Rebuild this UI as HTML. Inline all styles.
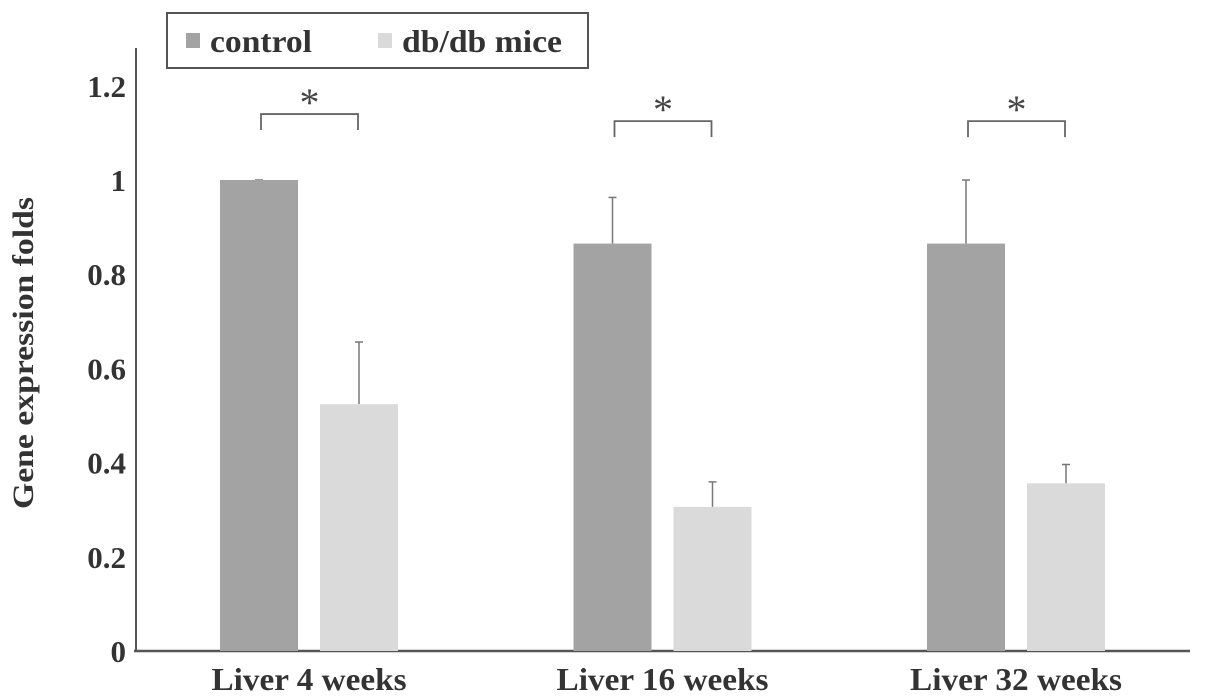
<!DOCTYPE html>
<html><head><meta charset="utf-8"><style>
html,body{margin:0;padding:0;background:#fff;}
svg{display:block;font-family:"Liberation Serif",serif;}
</style></head><body>
<svg id="chart" width="1205" height="700"></svg>
<script>
const categories=["Liver 4 weeks","Liver 16 weeks","Liver 32 weeks"];
const controlValues=[1.0,0.865,0.865];
const controlErrors=[0.0,0.098,0.135];
const dbValues=[0.524,0.306,0.356];
const dbErrors=[0.132,0.053,0.040];
const yTicks=[0,0.2,0.4,0.6,0.8,1,1.2];
const yTickLabels=["0","0.2","0.4","0.6","0.8","1","1.2"];
const sigMarks=["*","*","*"];
const bracketHeights=[1.14,1.125,1.125];

const NS="http://www.w3.org/2000/svg";
const svg=document.getElementById('chart');
function mk(t,a,p){const e=document.createElementNS(NS,t);for(const k in a)e.setAttribute(k,a[k]);(p||svg).appendChild(e);return e;}
const y0=651,pxPerUnit=471;
function yS(v){return y0-v*pxPerUnit;}
const groupStart=220,groupStep=353.5,barW=78,gap=22;
function xCtrl(i){return groupStart+i*groupStep;}
function xDb(i){return xCtrl(i)+barW+gap;}

let ax=mk('line',{x1:136,y1:48,x2:136,y2:651,stroke:'#555','stroke-width':2});

let bx=mk('line',{x1:134,y1:651,x2:1190,y2:651,stroke:'#555','stroke-width':2.5});


yTicks.forEach((v,i)=>{
  const t=mk('text',{x:126,y:yS(v)+11,'text-anchor':'end','font-size':31,'font-weight':'bold',fill:'#333'});
  t.textContent=yTickLabels[i];
  
  
});
const yt=mk('text',{x:0,y:0,transform:'translate(33,353) rotate(-90)','text-anchor':'middle','font-size':30,'font-weight':'bold',fill:'#333',textLength:312,lengthAdjust:'spacingAndGlyphs'});
yt.textContent='Gene expression folds';


categories.forEach((c,i)=>{
  [[xCtrl(i),controlValues[i],controlErrors[i]],[xDb(i),dbValues[i],dbErrors[i]]].forEach(([x,v,e])=>{
    const cx=x+barW/2;
    const l=mk('line',{x1:cx,y1:yS(v),x2:cx,y2:yS(v+e),stroke:'#777','stroke-width':1.5});
    
    const cap=mk('line',{x1:cx-4,y1:yS(v+e),x2:cx+4,y2:yS(v+e),stroke:'#777','stroke-width':1.5});
    
  });
  const b1=mk('rect',{x:xCtrl(i),y:yS(controlValues[i]),width:barW,height:controlValues[i]*pxPerUnit,fill:'#a3a3a3'});
  
  const b2=mk('rect',{x:xDb(i),y:yS(dbValues[i]),width:barW,height:dbValues[i]*pxPerUnit,fill:'#dadada'});
  
  const bl=xCtrl(i)+41,br=xDb(i)+38,by=yS(bracketHeights[i]);
  const p=mk('path',{d:`M${bl},${by+16}V${by}H${br}V${by+16}`,fill:'none',stroke:'#666','stroke-width':1.8});
  
  const s=mk('text',{x:(bl+br)/2,y:by+2,'text-anchor':'middle','font-size':40,fill:'#444'});
  s.textContent=sigMarks[i];
  
  const xl=mk('text',{x:xCtrl(i)+89,y:690,'text-anchor':'middle','font-size':32,'font-weight':'bold',fill:'#333',textLength:i===0?195:212,lengthAdjust:'spacingAndGlyphs'});
  xl.textContent=c;
  
});

const lg=mk('g',{});

mk('rect',{x:167,y:13,width:421,height:55,fill:'#fff',stroke:'#555','stroke-width':2},lg);
mk('rect',{x:186,y:33,width:14,height:15,fill:'#a3a3a3'},lg);
const l1=mk('text',{x:210,y:52,'font-size':32,'font-weight':'bold',fill:'#333',textLength:102,lengthAdjust:'spacingAndGlyphs'},lg);
l1.textContent='control';

mk('rect',{x:378,y:33,width:14,height:15,fill:'#dadada'},lg);
const l2=mk('text',{x:402,y:52,'font-size':32,'font-weight':'bold',fill:'#333',textLength:160,lengthAdjust:'spacingAndGlyphs'},lg);
l2.textContent='db/db mice';

</script>
</body></html>
